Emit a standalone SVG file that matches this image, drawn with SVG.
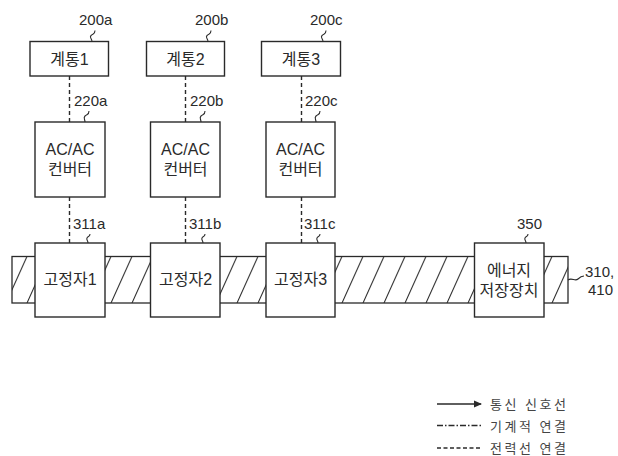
<svg xmlns="http://www.w3.org/2000/svg" width="618" height="456" viewBox="0 0 618 456">
<style>
.box{fill:#fff;stroke:#2a2a2a;stroke-width:1.4}
.t{font-family:"Liberation Sans","Noto Sans CJK KR",sans-serif;font-size:16px;fill:#2a2a2a;text-anchor:middle}
.lbl{font-family:"Liberation Sans","Noto Sans CJK KR",sans-serif;font-size:15px;fill:#2a2a2a}
.leg{font-family:"Liberation Sans","Noto Sans CJK KR",sans-serif;font-size:13px;fill:#444;letter-spacing:2.5px}
.dash{stroke:#2a2a2a;stroke-width:1.4;stroke-dasharray:4 3;fill:none}
.sq{stroke:#2a2a2a;stroke-width:1.1;fill:none}
</style>
<defs>
<pattern id="hatch" patternUnits="userSpaceOnUse" x="6" y="256.5" width="21" height="46.5">
<path d="M-21,46.5 L0,0 M0,46.5 L21,0 M21,46.5 L42,0" stroke="#2a2a2a" stroke-width="1.1"/>
</pattern>
<marker id="arr" markerWidth="8" markerHeight="8" refX="7" refY="4" orient="auto" markerUnits="userSpaceOnUse">
<path d="M0,0.5 L8,4 L0,7.5 Z" fill="#2a2a2a"/>
</marker>
</defs>

<g id="band">
<rect x="12" y="256.5" width="556" height="46.5" fill="url(#hatch)" stroke="#2a2a2a" stroke-width="1.3"/>
<path class="sq" d="M568,280 c4,-3 7,2 10,-1 c2,-2 4,-3 6,-3"/>
<text class="lbl" x="585" y="277">310,</text>
<text class="lbl" x="588" y="295">410</text>
</g>

<g id="connectors">
<line class="dash" x1="69.5" y1="76" x2="69.5" y2="122"/>
<line class="dash" x1="185.5" y1="76" x2="185.5" y2="122"/>
<line class="dash" x1="301.5" y1="76" x2="301.5" y2="122"/>
<line class="dash" x1="69.5" y1="197" x2="69.5" y2="243"/>
<line class="dash" x1="185.5" y1="197" x2="185.5" y2="243"/>
<line class="dash" x1="301.5" y1="197" x2="301.5" y2="243"/>
</g>

<g id="sys1">
<rect class="box" x="30" y="41.5" width="78.5" height="34.5"/>
<text class="t" x="69.5" y="64.5">계통1</text>
<path class="sq" d="M92,41.5 c0,-3 -3,-4 -1,-6 c2,-2 4,-1 4,-5"/>
<text class="lbl" x="79" y="25">200a</text>
</g>
<g id="sys2">
<rect class="box" x="146.5" y="41.5" width="78" height="34.5"/>
<text class="t" x="185.5" y="64.5">계통2</text>
<path class="sq" d="M208,41.5 c0,-3 -3,-4 -1,-6 c2,-2 4,-1 4,-5"/>
<text class="lbl" x="195" y="25">200b</text>
</g>
<g id="sys3">
<rect class="box" x="261.5" y="41.5" width="79" height="34.5"/>
<text class="t" x="301" y="64.5">계통3</text>
<path class="sq" d="M323,41.5 c0,-3 -3,-4 -1,-6 c2,-2 4,-1 4,-5"/>
<text class="lbl" x="310" y="25">200c</text>
</g>

<g id="conv1">
<rect class="box" x="35" y="122" width="70" height="75"/>
<text class="t" x="70" y="155">AC/AC</text>
<text class="t" x="70" y="174.5">컨버터</text>
<path class="sq" d="M85,122 c0,-3 -2,-4 0,-6 c2,-2 4,-1 4,-5"/>
<text class="lbl" x="74" y="106">220a</text>
</g>
<g id="conv2">
<rect class="box" x="150.5" y="122" width="69.5" height="75"/>
<text class="t" x="185.5" y="155">AC/AC</text>
<text class="t" x="185.5" y="174.5">컨버터</text>
<path class="sq" d="M201,122 c0,-3 -2,-4 0,-6 c2,-2 4,-1 4,-5"/>
<text class="lbl" x="190" y="106">220b</text>
</g>
<g id="conv3">
<rect class="box" x="266" y="122" width="69" height="75"/>
<text class="t" x="300.5" y="155">AC/AC</text>
<text class="t" x="300.5" y="174.5">컨버터</text>
<path class="sq" d="M316,122 c0,-3 -2,-4 0,-6 c2,-2 4,-1 4,-5"/>
<text class="lbl" x="305" y="106">220c</text>
</g>

<g id="stator1">
<rect class="box" x="35" y="243" width="70" height="74"/>
<text class="t" x="70" y="285">고정자1</text>
<path class="sq" d="M88,243 c0,-3 -2,-3 -1,-5 c1,-2 3,-1 3,-4"/>
<text class="lbl" x="73" y="229">311a</text>
</g>
<g id="stator2">
<rect class="box" x="150.5" y="243" width="69.5" height="74"/>
<text class="t" x="185.5" y="285">고정자2</text>
<path class="sq" d="M203,243 c0,-3 -2,-3 -1,-5 c1,-2 3,-1 3,-4"/>
<text class="lbl" x="189" y="229">311b</text>
</g>
<g id="stator3">
<rect class="box" x="266" y="243" width="69" height="74"/>
<text class="t" x="300.5" y="285">고정자3</text>
<path class="sq" d="M318,243 c0,-3 -2,-3 -1,-5 c1,-2 3,-1 3,-4"/>
<text class="lbl" x="304" y="229">311c</text>
</g>

<g id="storage">
<rect class="box" x="474.5" y="243" width="69.5" height="74"/>
<text class="t" x="509" y="276">에너지</text>
<text class="t" x="509" y="295.5">저장장치</text>
<path class="sq" d="M526,243 c0,-3 -2,-3 -1,-5 c1,-2 3,-1 3,-4"/>
<text class="lbl" x="517" y="229">350</text>
</g>

<g id="legend">
<line x1="437" y1="404" x2="481" y2="404" stroke="#2a2a2a" stroke-width="1.3" marker-end="url(#arr)"/>
<text class="leg" x="490" y="409">통신 신호선</text>
<line x1="437" y1="425.5" x2="482" y2="425.5" stroke="#2a2a2a" stroke-width="1.3" stroke-dasharray="6 2 1.5 2"/>
<text class="leg" x="490" y="430.5">기계적 연결</text>
<line x1="437" y1="448" x2="482" y2="448" stroke="#2a2a2a" stroke-width="1.3" stroke-dasharray="4 2.5"/>
<text class="leg" x="490" y="452.5">전력선 연결</text>
</g>
</svg>
